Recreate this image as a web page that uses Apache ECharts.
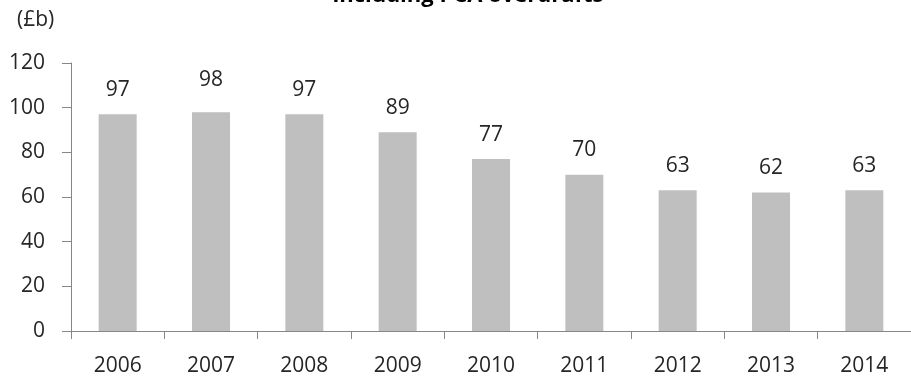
<!DOCTYPE html>
<html>
<head>
<meta charset="utf-8">
<script src="https://cdn.jsdelivr.net/npm/echarts@6/dist/echarts.min.js"></script>
<style>
  html, body { margin: 0; padding: 0; background: #fff; }
  #chart { width: 911px; height: 377px; }
</style>
</head>
<body>
<div id="chart"></div>
<script>
// Unsecured lending, £ billions, by year
const years = ['2006', '2007', '2008', '2009', '2010', '2011', '2012', '2013', '2014'];
const lending = [97, 98, 97, 89, 77, 70, 63, 62, 63];
const yTicks = { min: 0, max: 120, step: 20 };

const FONT = '"Open Sans", "Liberation Sans", sans-serif';
const TEXT = '#262626';
const AXIS = '#868686';

const chart = echarts.init(document.getElementById('chart'), null, { renderer: 'canvas' });

chart.setOption({
  animation: false,
  backgroundColor: '#ffffff',
  title: {
    text: 'including PCA overdrafts',
    left: 468,
    textAlign: 'center',
    top: -15,
    padding: 0,
    textStyle: { fontFamily: FONT, fontWeight: 'bold', fontSize: 22, color: '#000' }
  },
  graphic: [{
    type: 'text',
    left: 17,
    top: 10,
    style: { text: '(£b)', fontFamily: FONT, fontSize: 21, fill: TEXT }
  }],
  grid: { left: 71, top: 63, width: 851, bottom: 42, containLabel: false },
  xAxis: {
    type: 'category',
    data: years,
    boundaryGap: true,
    axisLine: { lineStyle: { color: AXIS, width: 1 } },
    axisTick: { show: true, length: 8, lineStyle: { color: AXIS } },
    axisLabel: { fontFamily: FONT, fontSize: 21, color: TEXT, margin: 25 }
  },
  yAxis: {
    type: 'value',
    min: yTicks.min,
    max: yTicks.max,
    interval: yTicks.step,
    axisLine: { show: true, lineStyle: { color: AXIS, width: 1 } },
    axisTick: { show: true, length: 9, lineStyle: { color: AXIS } },
    splitLine: { show: false },
    axisLabel: { fontFamily: FONT, fontSize: 21, color: TEXT, margin: 26 }
  },
  series: [{
    type: 'bar',
    data: lending.map((v, i) => i === 1
      ? { value: v, label: { distance: 22 } }
      : v),
    barWidth: 38,
    itemStyle: { color: '#bfbfbf' },
    label: {
      show: true,
      position: 'top',
      distance: 14,
      fontFamily: FONT,
      fontSize: 21,
      color: TEXT
    }
  }]
});
</script>
</body>
</html>
